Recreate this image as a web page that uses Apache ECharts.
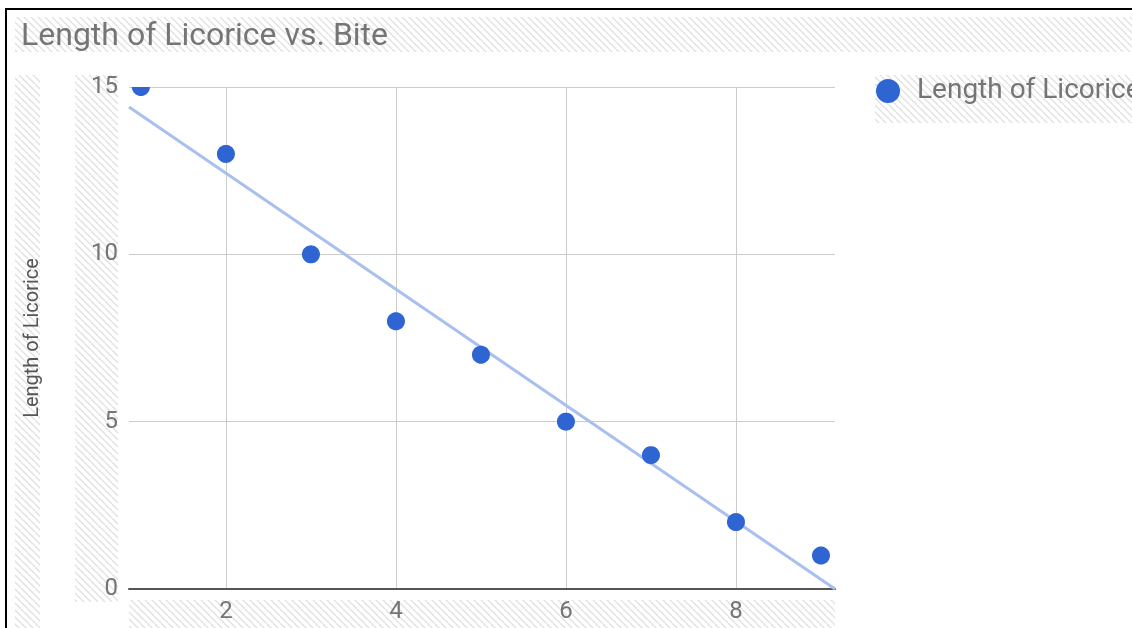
<!DOCTYPE html>
<html><head><meta charset="utf-8">
<script src="https://cdn.jsdelivr.net/npm/echarts@6/dist/echarts.min.js"></script>
<style>html,body{margin:0;padding:0;background:#fff}#c{width:1132px;height:628px}</style>
</head><body><div id="c"></div>
<script>
// ---- data ----
const bites = [1, 2, 3, 4, 5, 6, 7, 8, 9];
const lengths = [15, 13, 10, 8, 7, 5, 4, 2, 1];
const trendX = [0.86, 9.165];
const trendY = [14.4, 0];
const xTickValues = [2, 4, 6, 8];
const chartTitle = 'Length of Licorice vs. Bite';
const seriesName = 'Length of Licorice';
const yAxisTitle = 'Length of Licorice';

// ---- hatch pattern (selection look in the reference) ----
function makeHatch() {
  const s = 7, c = document.createElement('canvas');
  c.width = s; c.height = s;
  const g = c.getContext('2d');
  g.strokeStyle = '#e0e0e0'; g.lineWidth = 1.3;
  for (let k = -1; k <= 1; k++) {
    g.beginPath(); g.moveTo(k * s, 0); g.lineTo(k * s + s, s); g.stroke();
  }
  return c;
}
const pat = { image: makeHatch(), repeat: 'repeat' };
function hatchRect(x, y, w, h) {
  return { type: 'rect', z: -10, silent: true, shape: { x, y, width: w, height: h }, style: { fill: pat } };
}

const chart = echarts.init(document.getElementById('c'), null, { renderer: 'canvas' });
const grey = '#757575';
const dotColor = '#2f65d2';
chart.setOption({
  animation: false,
  backgroundColor: '#fff',
  textStyle: { fontFamily: 'Roboto' },
  title: {
    text: chartTitle, left: 16, top: 16,
    textStyle: { fontSize: 32, fontWeight: 'normal', color: grey, fontFamily: 'Roboto' }
  },
  legend: {
    data: [seriesName], left: 876, top: 77, padding: 0,
    icon: 'circle', itemWidth: 24, itemHeight: 24,
    textStyle: { fontSize: 28, color: grey, padding: [0, 0, 0, 12] }
  },
  grid: { left: 129, right: 297, top: 87, bottom: 39, containLabel: false },
  xAxis: {
    type: 'value', min: 0.86, max: 9.165,
    axisLine: { show: true, lineStyle: { color: '#555', width: 2 } },
    axisTick: { show: false, customValues: xTickValues },
    axisLabel: { customValues: xTickValues, fontSize: 24, color: grey, margin: 11 },
    splitLine: { show: true, lineStyle: { color: '#cccccc', width: 1 } }
  },
  yAxis: {
    type: 'value', min: 0, max: 15, interval: 5,
    name: yAxisTitle, nameLocation: 'middle', nameGap: 86,
    nameTextStyle: { fontSize: 20, color: '#555' },
    axisLine: { show: false }, axisTick: { show: false },
    axisLabel: { fontSize: 24, color: grey, margin: 11 },
    splitLine: { show: true, lineStyle: { color: '#cccccc', width: 1 } }
  },
  graphic: [
    hatchRect(15, 17, 1117, 35),
    hatchRect(15, 75, 25, 553),
    hatchRect(75, 75, 43, 527),
    hatchRect(129, 600, 706, 28),
    hatchRect(875, 75, 257, 48),
    { type: 'rect', z: 100, silent: true, shape: { x: 6, y: 9, width: 1300, height: 800 },
      style: { fill: 'none', stroke: '#000', lineWidth: 2 } }
  ],
  series: [
    {
      type: 'line', silent: true, z: 2,
      data: trendX.map((x, i) => [x, trendY[i]]),
      showSymbol: false, lineStyle: { color: '#a8c0ee', width: 3 }
    },
    {
      type: 'custom', name: seriesName, coordinateSystem: 'cartesian2d', z: 3,
      data: bites.map((x, i) => [x, lengths[i]]),
      encode: { x: 0, y: 1 },
      itemStyle: { color: dotColor },
      renderItem: function (params, api) {
        const p = api.coord([api.value(0), api.value(1)]);
        const cs = params.coordSys;
        const r = 9, pts = [];
        // circle outline, clipped to the plot rectangle (like the reference)
        for (let k = 0; k < 48; k++) {
          const a = k / 48 * Math.PI * 2;
          let x = p[0] + r * Math.cos(a), y = p[1] + r * Math.sin(a);
          x = Math.min(Math.max(x, cs.x), cs.x + cs.width);
          y = Math.min(Math.max(y, cs.y), cs.y + cs.height);
          pts.push([x, y]);
        }
        return { type: 'polygon', shape: { points: pts }, style: { fill: dotColor } };
      }
    }
  ]
});
</script>
</body></html>
